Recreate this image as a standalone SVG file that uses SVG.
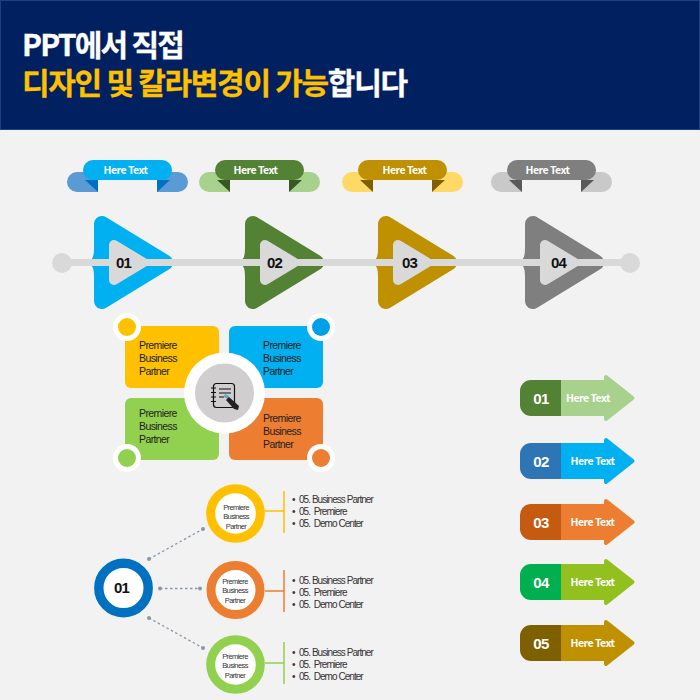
<svg xmlns="http://www.w3.org/2000/svg" width="700" height="700" viewBox="0 0 700 700">
<style>
text{font-family:"Noto Sans CJK KR","Liberation Sans",sans-serif}
.title{font-size:30px;font-weight:700;letter-spacing:-1.3px;fill:#fff;stroke:#fff;stroke-width:.3}
.t1{letter-spacing:-1.8px}
.yl{fill:#FFC000;stroke:#FFC000}
.rt{font-size:10.500px;font-weight:700;fill:#fff;text-anchor:middle;letter-spacing:-.5px}
.num{font-family:"Liberation Sans",sans-serif;font-size:15px;font-weight:700;fill:#111;text-anchor:middle;letter-spacing:-.8px}
.wn{font-family:"Liberation Sans",sans-serif;font-size:15px;font-weight:700;fill:#fff;text-anchor:middle;letter-spacing:-.6px}
.q{font-family:"Liberation Sans",sans-serif;font-size:10.500px;letter-spacing:-.6px;fill:#222}
.c{font-family:"Liberation Sans",sans-serif;font-size:7.500px;letter-spacing:-.6px;fill:#333;text-anchor:middle}
.l{font-family:"Liberation Sans",sans-serif;font-size:10px;letter-spacing:-.95px;fill:#333;white-space:pre}
.cc{fill:currentColor;stroke:currentColor;stroke-linejoin:round}
.dot{stroke:#8C98A8;stroke-width:1.3;stroke-dasharray:2.500 2.500;fill:none}
.df{fill:#8C98A8}
.ic{fill:none;stroke:#111;stroke-width:1.200}
</style>
<defs>
<g id="tri"><path class="cc" stroke-width="16" d="M102 224L165 262.500L102 301Z"/><path fill="currentColor" d="M94 248Q94 257 91.500 259.500V265.500Q94 268 94 277Z"/></g>
<g id="ribbon"><path fill="var(--s)" d="M77 172H98V192H77a10 10 0 0 1 0-20ZM178 172H157V192H178a10 10 0 0 0 0-20Z"/><path fill="var(--f)" d="M85 180H98V192ZM170 180H157V192Z"/><rect x="83" y="160" width="89" height="20" rx="10" fill="var(--b)"/></g>
<path id="arrowLight" class="cc" stroke-width="4" d="M555 382H606V377L632.500 398L606 419V414H555Z"/>
<path id="arrowDark" fill="currentColor" d="M561 380H531a11 11 0 0 0-11 11V405a11 11 0 0 0 11 11H561Z"/>
</defs>
<rect width="700" height="700" fill="#F2F2F2"/>
<g id="header"><rect x=".5" y=".5" width="699" height="129" fill="#002060" stroke="#1F3F7F"/>
<text class="title"><tspan x="22" y="56" class="t1">PPT에서 직접</tspan><tspan x="22" y="94" class="yl">디자인 및 칼라변경이 가능</tspan><tspan>합니다</tspan></text></g>

<g id="ribbon-1" style="--s:#5B9BD5;--f:#0070C0;--b:#00B0F0"><use href="#ribbon"/><text x="125.500" y="174" class="rt">Here Text</text></g>
<g id="ribbon-2" style="--s:#A9D18E;--f:#385723;--b:#548235"><use href="#ribbon" x="132"/><text x="255.500" y="174" class="rt">Here Text</text></g>
<g id="ribbon-3" style="--s:#FFD966;--f:#7F6000;--b:#BF9000"><use href="#ribbon" x="275"/><text x="404.500" y="174" class="rt">Here Text</text></g>
<g id="ribbon-4" style="--s:#C9C9C9;--f:#595959;--b:#7F7F7F"><use href="#ribbon" x="424"/><text x="547.500" y="174" class="rt">Here Text</text></g>

<g id="step-shape-1" color="#00B0F0"><use href="#tri"/></g>
<g id="step-shape-2" color="#548235"><use href="#tri" x="151"/></g>
<g id="step-shape-3" color="#BF9000"><use href="#tri" x="284"/></g>
<g id="step-shape-4" color="#7F7F7F"><use href="#tri" x="431"/></g>

<g id="connectors">
<path d="M62 262.500H630" stroke="#D9D9D9" stroke-width="7" fill="none"/>
<circle cx="62" cy="263" r="10" fill="#D9D9D9"/><circle cx="630" cy="263" r="10" fill="#D9D9D9"/>
<path class="dot" d="M149 559L203 529M160 588.500H200M149 618L203 648"/>
<g class="df"><circle cx="149" cy="559" r="2"/><circle cx="203" cy="529" r="2"/><circle cx="160" cy="588.500" r="2"/><circle cx="200" cy="588.500" r="2"/><circle cx="149" cy="618" r="2"/><circle cx="203" cy="648" r="2"/></g>
<path d="M265 511H284M284 491V533" stroke="#FFC000" stroke-width="1.500" fill="none"/>
<path d="M265 591H284M284 570V612" stroke="#ED7D31" stroke-width="1.500" fill="none"/>
<path d="M265 663H284M284 642V684" stroke="#92D050" stroke-width="1.500" fill="none"/>
</g>

<g id="step-1"><path id="in" fill="#D9D9D9" stroke="#D9D9D9" stroke-width="10" stroke-linejoin="round" d="M114 245L143 262.500L114 280Z"/><text x="123.500" y="268" class="num">01</text></g>
<g id="step-2"><use href="#in" x="151"/><text x="274.500" y="268" class="num">02</text></g>
<g id="step-3"><use href="#in" x="284"/><text x="409.500" y="268" class="num">03</text></g>
<g id="step-4"><use href="#in" x="431"/><text x="558.500" y="268" class="num">04</text></g>

<g id="card-1"><rect x="125" y="326" width="94" height="62" rx="6" fill="#FFC000"/><circle cx="127" cy="327" r="14" fill="#fff"/><circle cx="127" cy="327" r="9" fill="#FFC000"/><text class="q"><tspan x="139" y="348.500">Premiere</tspan><tspan x="139" y="361.500">Business</tspan><tspan x="139" y="374.500">Partner</tspan></text></g>
<g id="card-2"><rect x="229" y="326" width="94" height="62" rx="6" fill="#00B0F0"/><circle cx="321" cy="327" r="14" fill="#fff"/><circle cx="321" cy="327" r="9" fill="#00A0E9"/><text class="q"><tspan x="263" y="348.500">Premiere</tspan><tspan x="263" y="361.500">Business</tspan><tspan x="263" y="374.500">Partner</tspan></text></g>
<g id="card-3"><rect x="125" y="398" width="94" height="62" rx="6" fill="#92D050"/><circle cx="127" cy="458" r="14" fill="#fff"/><circle cx="127" cy="458" r="9" fill="#92D050"/><text class="q"><tspan x="139" y="416.500">Premiere</tspan><tspan x="139" y="429.500">Business</tspan><tspan x="139" y="442.500">Partner</tspan></text></g>
<g id="card-4"><rect x="229" y="398" width="94" height="62" rx="6" fill="#ED7D31"/><circle cx="321" cy="458" r="14" fill="#fff"/><circle cx="321" cy="458" r="9" fill="#ED7D31"/><text class="q"><tspan x="263" y="421.500">Premiere</tspan><tspan x="263" y="434.500">Business</tspan><tspan x="263" y="447.500">Partner</tspan></text></g>
<g id="center-icon"><circle cx="224.500" cy="393" r="40.500" fill="#fff"/><circle cx="224.500" cy="393" r="29.500" fill="#D0CECE"/>
<rect x="213.500" y="383.500" width="21" height="24" rx="3" class="ic"/>
<path class="ic" d="M211 388H216M211 392.500H216M211 397H216M211 401.500H216M219 389H231M219 393H231M219 397H224"/>
<path d="M225 394L229 396L228 399L224 397Z" fill="#5BA3C9"/>
<path d="M229 397L239 406L238 410L234 409L226 400Z" fill="#222"/></g>

<g id="tag-1" color="#A9D18E"><use href="#arrowLight"/><use href="#arrowDark" color="#548235"/><text x="541" y="404" class="wn">01</text><text x="588" y="402" class="rt">Here Text</text></g>
<g id="tag-2" color="#00B0F0" transform="translate(0,63)"><use href="#arrowLight"/><use href="#arrowDark" color="#2E75B6"/><text x="541" y="404" class="wn">02</text><text x="592.500" y="402" class="rt">Here Text</text></g>
<g id="tag-3" color="#ED7D31" transform="translate(0,124)"><use href="#arrowLight"/><use href="#arrowDark" color="#C55A11"/><text x="541" y="404" class="wn">03</text><text x="592.500" y="402" class="rt">Here Text</text></g>
<g id="tag-4" color="#92C01F" transform="translate(0,184)"><use href="#arrowLight"/><use href="#arrowDark" color="#00B050"/><text x="541" y="404" class="wn">04</text><text x="592.500" y="402" class="rt">Here Text</text></g>
<g id="tag-5" color="#BF9000" transform="translate(0,245)"><use href="#arrowLight"/><use href="#arrowDark" color="#7F6000"/><text x="541" y="404" class="wn">05</text><text x="592.500" y="402" class="rt">Here Text</text></g>

<g id="root"><circle cx="123.500" cy="588" r="24.700" fill="#fff" stroke="#0070C0" stroke-width="9.400"/><text x="121.500" y="593" class="num">01</text></g>
<g id="branch-1"><circle cx="235.500" cy="513.500" r="24.800" fill="#fff" stroke="#FFC000" stroke-width="9"/><text class="c"><tspan x="236" y="509.500">Premiere</tspan><tspan x="236" y="519">Business</tspan><tspan x="236" y="528.500">Partner</tspan></text></g>
<g id="branch-2"><circle cx="235.500" cy="590" r="24.500" fill="#fff" stroke="#ED7D31" stroke-width="9"/><text class="c"><tspan x="235" y="583.500">Premiere</tspan><tspan x="235" y="593">Business</tspan><tspan x="235" y="602.500">Partner</tspan></text></g>
<g id="branch-3"><circle cx="235.500" cy="664.500" r="24.800" fill="#fff" stroke="#92D050" stroke-width="9"/><text class="c"><tspan x="235" y="658.500">Premiere</tspan><tspan x="235" y="668">Business</tspan><tspan x="235" y="677.500">Partner</tspan></text></g>

<g id="list-1"><text class="l" x="292" y="502.500">•</text><text class="l" x="299" y="502.500">05. Business Partner</text><text class="l" x="292" y="514.500">•</text><text class="l" x="299" y="514.500">05.  Premiere</text><text class="l" x="292" y="526.500">•</text><text class="l" x="299" y="526.500">05.  Demo Center</text></g>
<g id="list-2"><text class="l" x="292" y="583.500">•</text><text class="l" x="299" y="583.500">05. Business Partner</text><text class="l" x="292" y="595.500">•</text><text class="l" x="299" y="595.500">05.  Premiere</text><text class="l" x="292" y="607.500">•</text><text class="l" x="299" y="607.500">05.  Demo Center</text></g>
<g id="list-3"><text class="l" x="292" y="655.500">•</text><text class="l" x="299" y="655.500">05. Business Partner</text><text class="l" x="292" y="667.500">•</text><text class="l" x="299" y="667.500">05.  Premiere</text><text class="l" x="292" y="679.500">•</text><text class="l" x="299" y="679.500">05.  Demo Center</text></g>
</svg>
